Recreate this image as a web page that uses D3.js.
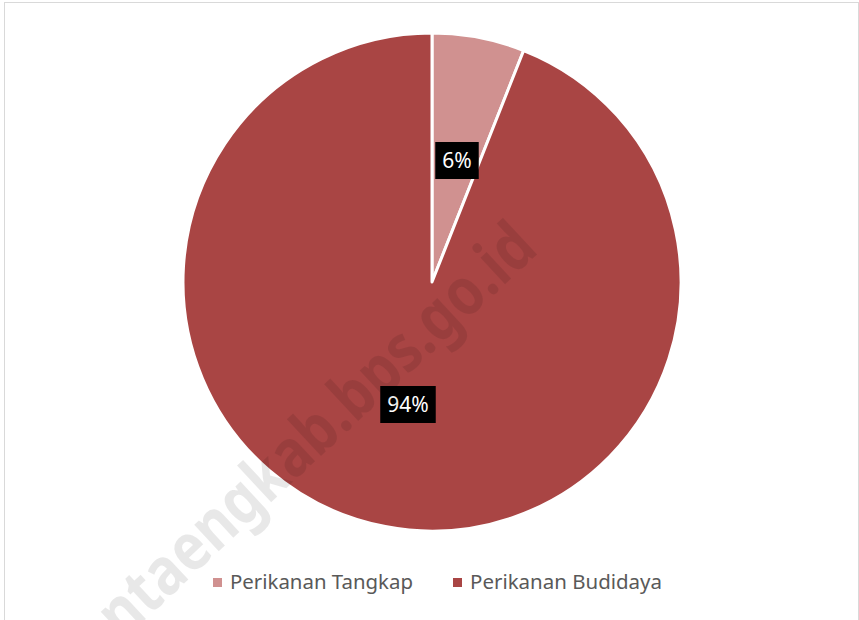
<!DOCTYPE html>
<html>
  <head>
    <meta charset="utf-8" />
    <title>Perikanan</title>
    <style>
      body { margin: 0; background: #fff; }
      #chart { width: 859px; height: 620px; }
      text { font-family: "Noto Sans", "Open Sans", sans-serif; }
    </style>
  </head>
  <body>
    <div id="chart"></div>
    <script src="https://cdn.jsdelivr.net/npm/d3@7"></script>
    <script>
      // chart data
      var categories = ["Perikanan Tangkap", "Perikanan Budidaya"];
      var shares = [6, 94];
      var labels = ["6%", "94%"];
      var colors = ["#d09190", "#a94544"];

      var width = 859, height = 620;
      var cx = 432, cy = 282, radius = 249;

      var svg = d3.select("#chart").append("svg")
        .attr("width", width)
        .attr("height", height);

      // outer frame
      svg.append("rect")
        .attr("x", 4.5).attr("y", 2.5)
        .attr("width", 854).attr("height", 640)
        .attr("fill", "#fff")
        .attr("stroke", "#d9d9d9");

      var pie = d3.pie().sort(null).value(d => d);
      var arcs = pie(shares);
      var arc = d3.arc().innerRadius(0).outerRadius(radius);

      var g = svg.append("g").attr("transform", `translate(${cx},${cy})`);

      g.selectAll("path")
        .data(arcs)
        .enter().append("path")
        .attr("d", arc)
        .attr("fill", (d, i) => colors[i])
        .attr("stroke", "#fff")
        .attr("stroke-width", 3)
        .attr("stroke-linejoin", "round");

      // data labels: black boxes with white text
      var labelPos = [[25, -122], [-24, 122]];
      arcs.forEach(function(d, i) {
        var p = labelPos[i];
        var lg = g.append("g").attr("transform", `translate(${p[0]},${p[1]})`);
        var t = lg.append("text")
          .attr("text-anchor", "middle")
          .attr("dy", "0.36em")
          .attr("font-size", 21)
          .attr("fill", "#fff")
          .text(labels[i]);
        var bb = t.node().getBBox();
        lg.insert("rect", "text")
          .attr("x", bb.x - 7).attr("y", -18)
          .attr("width", bb.width + 14).attr("height", 37)
          .attr("fill", "#000");
      });

      // legend
      var legendX = [213, 453];
      var legend = svg.append("g");
      categories.forEach(function(c, i) {
        legend.append("rect")
          .attr("x", legendX[i]).attr("y", 578)
          .attr("width", 9).attr("height", 9)
          .attr("fill", colors[i]);
        legend.append("text")
          .attr("x", legendX[i] + 17).attr("y", 589)
          .attr("font-size", 19)
          .attr("textLength", i === 0 ? 183 : 192)
          .attr("lengthAdjust", "spacingAndGlyphs")
          .attr("fill", "#595959")
          .text(c);
      });

      // watermark
      svg.append("text")
        .attr("transform", "translate(72,688) rotate(-43)")
        .attr("font-size", 66)
        .attr("font-weight", "bold")
        .attr("textLength", 640)
        .attr("lengthAdjust", "spacingAndGlyphs")
        .attr("fill", "#000")
        .attr("fill-opacity", 0.09)
        .text("bantaengkab.bps.go.id");
    </script>
  </body>
</html>
